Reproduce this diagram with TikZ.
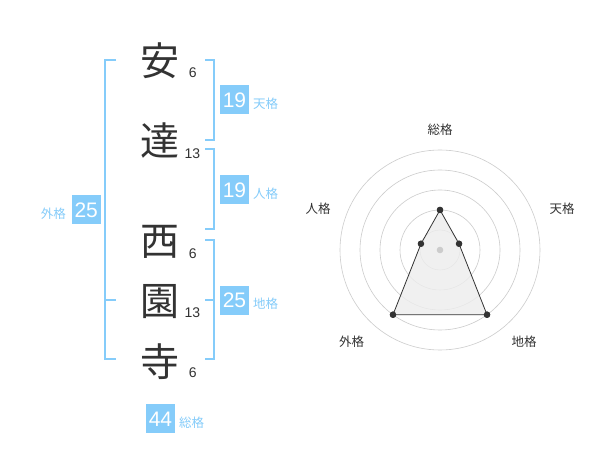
\documentclass[tikz,border=0pt]{standalone}
\usepackage{fontspec}
\setmainfont{Liberation Sans}
\newfontfamily\jp{Noto Sans CJK JP}
\definecolor{sky}{HTML}{85CCFA}
\definecolor{ink}{HTML}{333333}
\definecolor{ring}{HTML}{CCCCCC}
\begin{document}
\begin{tikzpicture}[x=1pt,y=-1pt,
  kanji/.style={font=\jp\fontsize{39}{39}\selectfont, text=ink, inner sep=0},
  strokes/.style={font=\fontsize{14}{14}\selectfont, text=ink, inner sep=0},
  scorebox/.style={fill=sky, text=white, minimum width=29, minimum height=29, inner sep=0, font=\fontsize{21}{21}\selectfont},
  scorelab/.style={text=sky, inner sep=0, font=\jp\fontsize{12.5}{12.5}\selectfont},
  brk/.style={draw=sky, line width=1.7},
  axlab/.style={text=ink, inner sep=0, font=\jp\fontsize{12.5}{12.5}\selectfont},
  ringc/.style={draw=ring, line width=0.6},
  dot/.style={circle, fill=ink, inner sep=0, minimum size=6.5}]
\fill[white] (0,0) rectangle (600,470);
\useasboundingbox (0,0) rectangle (600,470);
% characters
\node[kanji] (k1) at (160,61) {安};
\node[kanji] (k2) at (160,141) {達};
\node[kanji] (k3) at (160,242) {西};
\node[kanji] (k4) at (160,302) {園};
\node[kanji] (k5) at (160,362) {寺};
\node[strokes] (s1) at (192.7,72.7) {6};
\node[strokes] (s2) at (192.3,153.3) {13};
\node[strokes] (s3) at (192.7,253.3) {6};
\node[strokes] (s4) at (192.3,312.7) {13};
\node[strokes] (s5) at (192.7,372.7) {6};
% brackets
\coordinate (r1a) at (205,60); \coordinate (r1b) at (214.3,60);
\coordinate (r1c) at (214.3,140); \coordinate (r1d) at (205,140);
\draw[brk] (r1a) -- (r1b) -- (r1c) -- (r1d);
\coordinate (r2a) at (205,149); \coordinate (r2b) at (214.3,149);
\coordinate (r2c) at (214.3,229); \coordinate (r2d) at (205,229);
\draw[brk] (r2a) -- (r2b) -- (r2c) -- (r2d);
\coordinate (r3a) at (205,240); \coordinate (r3b) at (214.3,240);
\coordinate (r3c) at (214.3,359.3); \coordinate (r3d) at (205,359.3);
\coordinate (r3m) at (205,300); \coordinate (r3n) at (214.3,300);
\draw[brk] (r3a) -- (r3b) -- (r3c) -- (r3d);
\draw[brk] (r3m) -- (r3n);
\coordinate (l1a) at (116,60); \coordinate (l1b) at (105,60);
\coordinate (l1c) at (105,359.3); \coordinate (l1d) at (116,359.3);
\coordinate (l1m) at (105,300); \coordinate (l1n) at (116,300);
\draw[brk] (l1a) -- (l1b) -- (l1c) -- (l1d);
\draw[brk] (l1m) -- (l1n);
% score boxes
\node[scorebox] (b1) at (234.5,100) {19};
\node[scorelab, anchor=west] (t1) at (253,104) {天格};
\node[scorebox] (b2) at (234.5,190) {19};
\node[scorelab, anchor=west] (t2) at (253,194) {人格};
\node[scorebox] (b3) at (234.5,300.3) {25};
\node[scorelab, anchor=west] (t3) at (253,304) {地格};
\node[scorebox] (b4) at (86.2,210) {25};
\node[scorelab, anchor=east] (t4) at (66,214) {外格};
\node[scorebox] (b5) at (160.5,418.8) {44};
\node[scorelab, anchor=west] (t5) at (179,422.7) {総格};
% radar
\coordinate (c) at (440,250);
\foreach \r in {20,40,60,80,100} \draw[ringc] (c) circle[radius=\r];
\node[dot] (p1) at (440,210) {};
\node[dot] (p2) at (459.0,243.8) {};
\node[dot] (p3) at (487.0,314.7) {};
\node[dot] (p4) at (393.0,314.7) {};
\node[dot] (p5) at (421.0,243.8) {};
\fill[black!7, opacity=0.8] (p1.center) -- (p2.center) -- (p3.center) -- (p4.center) -- (p5.center) -- cycle;
\draw[ink, line width=0.8] (p1.center) -- (p2.center) -- (p3.center) -- (p4.center) -- (p5.center) -- cycle;
\fill[ring] (c) circle[radius=3.3];
\foreach \p in {p1,p2,p3,p4,p5} \fill[ink] (\p) circle[radius=3.2];
\node[axlab] (a1) at (440,130) {総格};
\node[axlab] (a2) at (562,208.5) {天格};
\node[axlab] (a3) at (318,208.5) {人格};
\node[axlab] (a4) at (351.5,342) {外格};
\node[axlab] (a5) at (524,342) {地格};
\end{tikzpicture}
\end{document}
